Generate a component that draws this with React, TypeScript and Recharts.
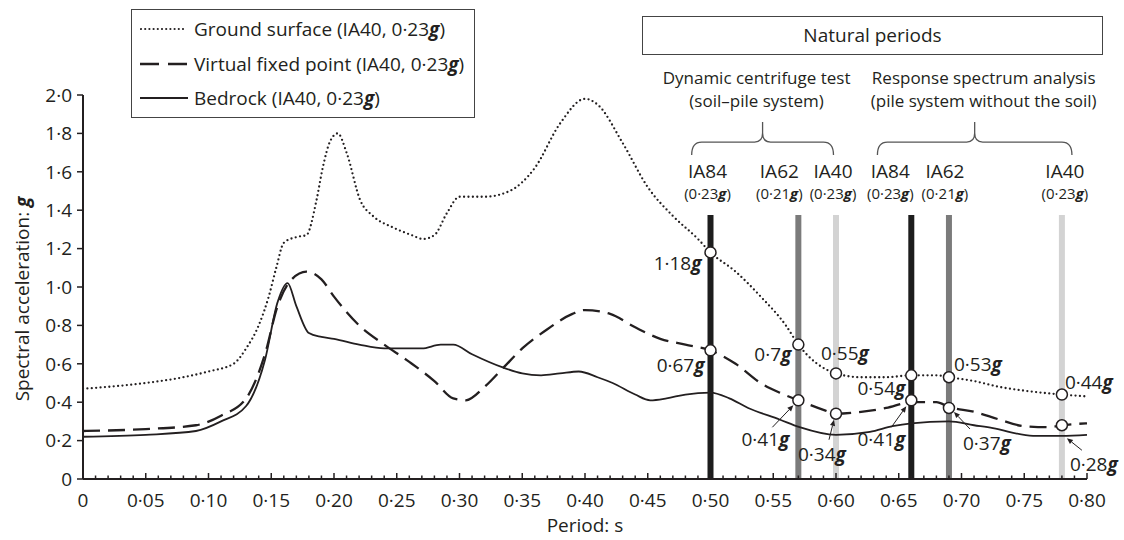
import React from "react";
import { LineChart, Line, XAxis, YAxis, ReferenceLine, ReferenceDot, Legend } from "recharts";

const FONT = '"Open Sans", "Noto Sans", sans-serif';
const INK = "#231f20";

// response spectra: period (s) and spectral acceleration (g)
const groundPeriod = [0, 0.02, 0.05, 0.08, 0.1, 0.12, 0.13, 0.14, 0.148, 0.154, 0.16, 0.17, 0.178, 0.186, 0.191, 0.197, 0.203, 0.21, 0.221, 0.231, 0.247, 0.262, 0.271, 0.28, 0.29, 0.3, 0.32, 0.34, 0.36, 0.38, 0.4, 0.41, 0.43, 0.45, 0.47, 0.49, 0.5, 0.52, 0.54, 0.56, 0.57, 0.585, 0.6, 0.62, 0.64, 0.66, 0.68, 0.69, 0.71, 0.73, 0.75, 0.78, 0.8];
const groundSa = [0.47, 0.48, 0.5, 0.53, 0.56, 0.6, 0.68, 0.8, 0.95, 1.1, 1.23, 1.26, 1.27, 1.45, 1.62, 1.76, 1.8, 1.7, 1.45, 1.37, 1.31, 1.27, 1.25, 1.27, 1.385, 1.47, 1.47, 1.5, 1.62, 1.85, 1.98, 1.95, 1.75, 1.52, 1.37, 1.25, 1.18, 1.08, 0.95, 0.8, 0.7, 0.6, 0.55, 0.53, 0.53, 0.54, 0.54, 0.53, 0.51, 0.48, 0.46, 0.44, 0.43];

const virtualPeriod = [0, 0.05, 0.09, 0.11, 0.13, 0.145, 0.155, 0.165, 0.178, 0.19, 0.2, 0.22, 0.24, 0.26, 0.28, 0.295, 0.305, 0.32, 0.335, 0.35, 0.37, 0.39, 0.4, 0.42, 0.44, 0.46, 0.48, 0.5, 0.52, 0.54, 0.555, 0.57, 0.59, 0.6, 0.62, 0.64, 0.66, 0.68, 0.69, 0.71, 0.73, 0.75, 0.77, 0.78, 0.8];
const virtualSa = [0.25, 0.26, 0.28, 0.33, 0.42, 0.65, 0.9, 1.03, 1.08, 1.04, 0.95, 0.8, 0.7, 0.61, 0.51, 0.42, 0.41, 0.48, 0.58, 0.68, 0.78, 0.86, 0.88, 0.86, 0.79, 0.73, 0.7, 0.67, 0.6, 0.5, 0.45, 0.41, 0.36, 0.34, 0.35, 0.37, 0.4, 0.4, 0.375, 0.35, 0.31, 0.275, 0.27, 0.28, 0.29];

const bedrockPeriod = [0, 0.05, 0.09, 0.11, 0.13, 0.145, 0.155, 0.163, 0.17, 0.18, 0.19, 0.2, 0.22, 0.24, 0.27, 0.285, 0.295, 0.31, 0.335, 0.35, 0.365, 0.38, 0.395, 0.41, 0.422, 0.44, 0.452, 0.465, 0.48, 0.5, 0.515, 0.53, 0.555, 0.571, 0.6, 0.627, 0.645, 0.66, 0.69, 0.71, 0.725, 0.757, 0.78, 0.8];
const bedrockSa = [0.22, 0.23, 0.25, 0.3, 0.38, 0.62, 0.92, 1.02, 0.9, 0.76, 0.74, 0.73, 0.7, 0.68, 0.68, 0.7, 0.7, 0.65, 0.58, 0.55, 0.54, 0.55, 0.56, 0.53, 0.5, 0.44, 0.41, 0.42, 0.44, 0.45, 0.42, 0.37, 0.31, 0.27, 0.23, 0.245, 0.275, 0.29, 0.3, 0.28, 0.265, 0.225, 0.225, 0.23];

// natural periods and the values read at them
const naturalPeriod = [0.5, 0.57, 0.6, 0.66, 0.69, 0.78];
const naturalModel = ["IA84", "IA62", "IA40", "IA84", "IA62", "IA40"];
const naturalPga = ["0·23", "0·21", "0·23", "0·23", "0·21", "0·23"];
const surfaceAtPeriod = [1.18, 0.7, 0.55, 0.54, 0.53, 0.44];
const lowerAtPeriod = [0.67, 0.41, 0.34, 0.41, 0.37, 0.28];
const barTop = 1.375;

const seriesNames = ["Ground surface", "Virtual fixed point", "Bedrock"];
const yTicks = [0, 0.2, 0.4, 0.6, 0.8, 1, 1.2, 1.4, 1.6, 1.8, 2];
const xTicks = Array.from({ length: 81 }, (_, i) => i / 100);

const W = 1124;
const H = 540;
const MARGIN = { top: 95, right: 37, bottom: 21, left: 23 };
const X_H = 40;
const PLOT_BOTTOM = H - MARGIN.bottom - X_H;

const modelColor: Record<string, string> = { IA84: "#1d1d1d", IA62: "#7b7b7b", IA40: "#d3d3d3" };
const headDx = [-3, -19, -3, -21, -4, 3];
const upperPos = [
  { dx: -9, dy: 18, anchor: "end" },
  { dx: -7, dy: 16, anchor: "end" },
  { dx: -15, dy: -13, anchor: "start" },
  { dx: -6, dy: 20, anchor: "end" },
  { dx: 5, dy: -6, anchor: "start" },
  { dx: 3, dy: -6, anchor: "start" },
];
const lowerPos = [
  { dx: -6, dy: 22, anchor: "end", arrow: null },
  { dx: -9, dy: 46, anchor: "end", arrow: [-26, 27, -5, 5] },
  { dx: -38, dy: 47, anchor: "start", arrow: [-7, 26, -2, 6] },
  { dx: -6, dy: 46, anchor: "end", arrow: [-20, 27, -5, 6] },
  { dx: 14, dy: 42, anchor: "start", arrow: [21, 21, 5, 4] },
  { dx: 8, dy: 46, anchor: "start", arrow: [20, 25, 5, 13] },
];

const zip = (px: number[], py: number[]) => px.map((p, i) => ({ p, sa: py[i] }));
const fmt = (v: number) => String(v).replace(".", "·");
const fmtX = (v: number) => (v === 0 ? "0" : v.toFixed(2).replace(".", "·"));
const fmtY = (v: number) => (v === 0 ? "0" : v.toFixed(1).replace(".", "·"));
const G = () => (
  <tspan fontWeight={700} fontStyle="italic">
    g
  </tspan>
);

function Arrow({ x1, y1, x2, y2 }: { x1: number; y1: number; x2: number; y2: number }) {
  const a = Math.atan2(y2 - y1, x2 - x1);
  const bx = x2 - 6 * Math.cos(a);
  const by = y2 - 6 * Math.sin(a);
  const px = -Math.sin(a) * 2.6;
  const py = Math.cos(a) * 2.6;
  return (
    <g>
      <line x1={x1} y1={y1} x2={bx} y2={by} stroke={INK} strokeWidth={1} />
      <polygon points={`${x2},${y2} ${bx + px},${by + py} ${bx - px},${by - py}`} fill={INK} />
    </g>
  );
}

const XTick = (props: any) => {
  const { x, payload } = props;
  const major = Math.round(payload.value * 100) % 5 === 0;
  return (
    <g>
      <line x1={x} x2={x} y1={PLOT_BOTTOM} y2={PLOT_BOTTOM - (major ? 6 : 3.5)} stroke={INK} strokeWidth={1.5} />
      {major && (
        <text x={x} y={PLOT_BOTTOM + 28} textAnchor="middle" fontSize={19} fill={INK} fontFamily={FONT}>
          {fmtX(payload.value)}
        </text>
      )}
    </g>
  );
};

const braceShape = (title: string, sub: string, dx: number) => (p: any) => {
  const x1 = Math.min(p.x1, p.x2);
  const x2 = Math.max(p.x1, p.x2);
  const y = p.y1;
  const xm = (x1 + x2) / 2;
  const d = `M${x1},${y + 13} Q${x1},${y} ${x1 + 10},${y} L${xm - 8},${y} Q${xm},${y} ${xm},${y - 9} L${xm},${y - 20} M${xm},${y - 9} Q${xm},${y} ${xm + 8},${y} L${x2 - 10},${y} Q${x2},${y} ${x2},${y + 13}`;
  return (
    <g>
      <path d={d} fill="none" stroke="#555" strokeWidth={1.3} />
      <text x={xm + dx} y={y - 58} textAnchor="middle" fontSize={17} fill={INK} fontFamily={FONT}>
        {title}
      </text>
      <text x={xm + dx} y={y - 35} textAnchor="middle" fontSize={17} fill={INK} fontFamily={FONT}>
        {sub}
      </text>
    </g>
  );
};

const legendSample = (i: number) => {
  if (i === 0) return <line x1={1} x2={47} y1={5} y2={5} stroke={INK} strokeWidth={2.2} strokeDasharray="0 4.2" strokeLinecap="round" />;
  if (i === 1) return <line x1={0} x2={48} y1={5} y2={5} stroke={INK} strokeWidth={2.4} strokeDasharray="19 9" />;
  return <line x1={0} x2={48} y1={5} y2={5} stroke={INK} strokeWidth={2} />;
};

const renderLegend = () => (
  <div
    style={{
      border: "1.3px solid #444",
      background: "#fff",
      padding: "2px 10px 1px 8px",
      fontSize: 19,
      lineHeight: "34.5px",
      fontFamily: FONT,
      color: INK,
      whiteSpace: "nowrap",
    }}
  >
    {seriesNames.map((name, i) => (
      <div key={name} style={{ display: "flex", alignItems: "center" }}>
        <svg width={48} height={10}>
          {legendSample(i)}
        </svg>
        <span style={{ marginLeft: 6 }}>
          {name} (IA40, 0·23
          <b>
            <i>g</i>
          </b>
          )
        </span>
      </div>
    ))}
  </div>
);

export default function App() {
  const plotMid = (MARGIN.top + PLOT_BOTTOM) / 2 + 12;
  return (
    <div style={{ position: "absolute", left: 0, top: 0, width: W, height: H, background: "#fff", fontFamily: FONT }}>
      <LineChart width={W} height={H} margin={MARGIN}>
        <XAxis
          type="number"
          dataKey="p"
          domain={[0, 0.8]}
          ticks={xTicks}
          interval={0}
          tick={<XTick />}
          tickLine={false}
          axisLine={{ stroke: INK, strokeWidth: 2 }}
          height={X_H}
          allowDataOverflow
          label={() => (
            <text x={(MARGIN.left + 60 + W - MARGIN.right) / 2} y={PLOT_BOTTOM + 53} textAnchor="middle" fontSize={19} fill={INK} fontFamily={FONT}>
              Period: s
            </text>
          )}
        />
        <YAxis
          type="number"
          dataKey="sa"
          domain={[0, 2]}
          ticks={yTicks}
          interval={0}
          width={60}
          tickFormatter={fmtY}
          tick={{ fontSize: 19, fill: INK, fontFamily: FONT }}
          tickSize={6}
          tickMargin={5}
          tickLine={{ stroke: INK, strokeWidth: 1.5 }}
          axisLine={{ stroke: INK, strokeWidth: 2 }}
          allowDataOverflow
          label={() => (
            <text x={22} y={plotMid} transform={`rotate(-90, 22, ${plotMid})`} textAnchor="middle" dominantBaseline="central" fontSize={19} fill={INK} fontFamily={FONT}>
              Spectral acceleration: <G />
            </text>
          )}
        />
        <Legend
          layout="vertical"
          align="center"
          verticalAlign="middle"
          content={renderLegend}
          wrapperStyle={{ position: "absolute", left: 131, top: 9, width: "auto", height: "auto" }}
        />

        {naturalPeriod.map((p, i) => (
          <ReferenceLine
            key={`bar-${i}`}
            segment={[
              { x: p, y: 0 },
              { x: p, y: barTop },
            ]}
            stroke={modelColor[naturalModel[i]]}
            strokeWidth={6}
            shape={(s: any) => {
              const top = Math.min(s.y1, s.y2);
              const bottom = Math.max(s.y1, s.y2);
              const cx = s.x1 + headDx[i];
              return (
                <g>
                  <line x1={s.x1} x2={s.x1} y1={top} y2={bottom} stroke={modelColor[naturalModel[i]]} strokeWidth={6} />
                  <text x={cx} y={top - 37} textAnchor="middle" fontSize={19} fill={INK} fontFamily={FONT}>
                    {naturalModel[i]}
                  </text>
                  <text x={cx} y={top - 16} textAnchor="middle" fontSize={15} fill={INK} fontFamily={FONT}>
                    ({naturalPga[i]}
                    <G />)
                  </text>
                </g>
              );
            }}
          />
        ))}

        <ReferenceLine
          segment={[
            { x: 0.485, y: 1.755 },
            { x: 0.598, y: 1.755 },
          ]}
          ifOverflow="visible"
          shape={braceShape("Dynamic centrifuge test", "(soil–pile system)", -6)}
        />
        <ReferenceLine
          segment={[
            { x: 0.633, y: 1.755 },
            { x: 0.788, y: 1.755 },
          ]}
          ifOverflow="visible"
          shape={braceShape("Response spectrum analysis", "(pile system without the soil)", 9)}
        />

        <Line
          data={zip(groundPeriod, groundSa)}
          dataKey="sa"
          type="monotone"
          stroke={INK}
          strokeWidth={2.3}
          strokeDasharray="0 4.4"
          strokeLinecap="round"
          dot={false}
          activeDot={false}
          isAnimationActive={false}
          legendType="none"
        />
        <Line
          data={zip(virtualPeriod, virtualSa)}
          dataKey="sa"
          type="monotone"
          stroke={INK}
          strokeWidth={2.3}
          strokeDasharray="17 8"
          dot={false}
          activeDot={false}
          isAnimationActive={false}
          legendType="none"
        />
        <Line
          data={zip(bedrockPeriod, bedrockSa)}
          dataKey="sa"
          type="monotone"
          stroke={INK}
          strokeWidth={1.8}
          dot={false}
          activeDot={false}
          isAnimationActive={false}
          legendType="none"
        />

        {naturalPeriod.map((p, i) => (
          <ReferenceDot
            key={`up-${i}`}
            x={p}
            y={surfaceAtPeriod[i]}
            r={5.5}
            shape={(d: any) => (
              <g>
                <circle cx={d.cx} cy={d.cy} r={5.5} fill="#fff" stroke={INK} strokeWidth={1.5} />
                <text x={d.cx + upperPos[i].dx} y={d.cy + upperPos[i].dy} textAnchor={upperPos[i].anchor} fontSize={19} fill={INK} fontFamily={FONT}>
                  {fmt(surfaceAtPeriod[i])}
                  <G />
                </text>
              </g>
            )}
          />
        ))}
        {naturalPeriod.map((p, i) => {
          const pos = lowerPos[i];
          return (
            <ReferenceDot
              key={`low-${i}`}
              x={p}
              y={lowerAtPeriod[i]}
              r={5.5}
              shape={(d: any) => (
                <g>
                  <circle cx={d.cx} cy={d.cy} r={5.5} fill="#fff" stroke={INK} strokeWidth={1.5} />
                  {pos.arrow && <Arrow x1={d.cx + pos.arrow[0]} y1={d.cy + pos.arrow[1]} x2={d.cx + pos.arrow[2]} y2={d.cy + pos.arrow[3]} />}
                  <text x={d.cx + pos.dx} y={d.cy + pos.dy} textAnchor={pos.anchor} fontSize={19} fill={INK} fontFamily={FONT}>
                    {fmt(lowerAtPeriod[i])}
                    <G />
                  </text>
                </g>
              )}
            />
          );
        })}
      </LineChart>
      <div
        style={{
          position: "absolute",
          left: 642,
          top: 16,
          width: 461,
          height: 39,
          boxSizing: "border-box",
          border: "1.3px solid #444",
          fontSize: 19,
          lineHeight: "37px",
          textAlign: "center",
          color: INK,
        }}
      >
        Natural periods
      </div>
    </div>
  );
}
